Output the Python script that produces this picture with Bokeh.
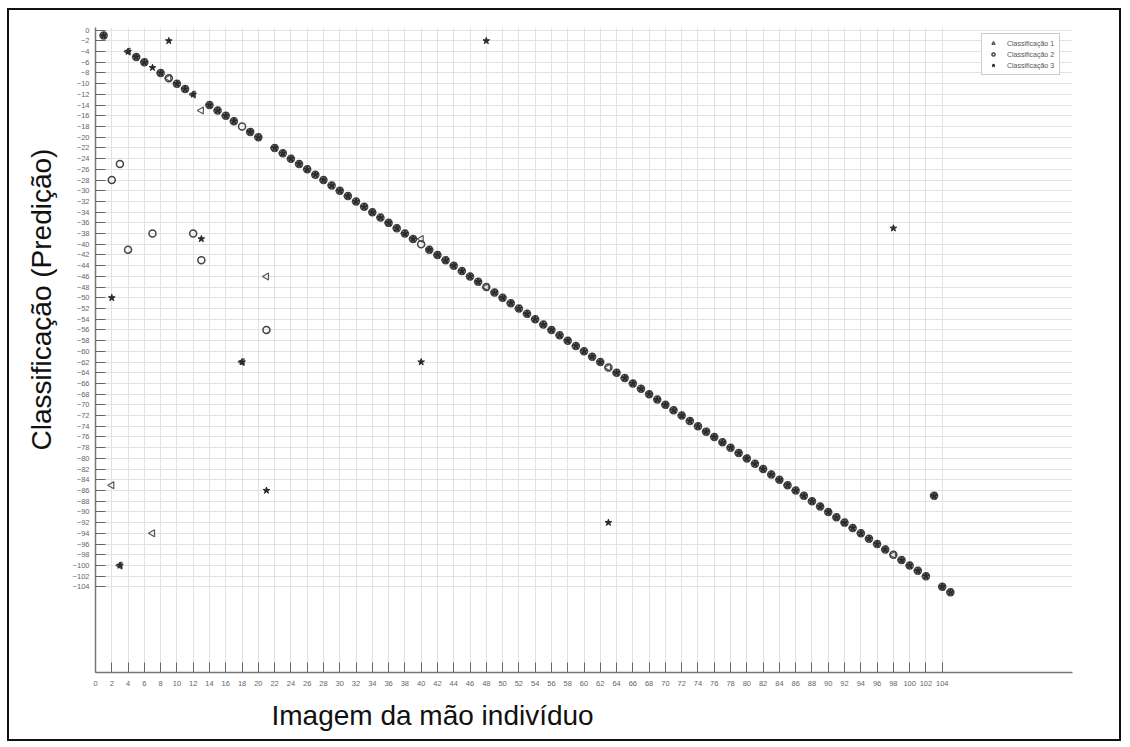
import math
from bokeh.plotting import figure
from bokeh.models import Range1d, FixedTicker, Title, ColumnDataSource
from bokeh.embed import file_html
from bokeh.resources import INLINE

# ---------------- data ----------------
imagens = [
    1, 2, 3, 4, 5, 6, 7, 8, 9, 10,
    11, 12, 13, 14, 15, 16, 17, 18, 19, 20,
    21, 22, 23, 24, 25, 26, 27, 28, 29, 30,
    31, 32, 33, 34, 35, 36, 37, 38, 39, 40,
    41, 42, 43, 44, 45, 46, 47, 48, 49, 50,
    51, 52, 53, 54, 55, 56, 57, 58, 59, 60,
    61, 62, 63, 64, 65, 66, 67, 68, 69, 70,
    71, 72, 73, 74, 75, 76, 77, 78, 79, 80,
    81, 82, 83, 84, 85, 86, 87, 88, 89, 90,
    91, 92, 93, 94, 95, 96, 97, 98, 99, 100,
    101, 102, 103, 104, 105,
]

classificacao_1 = [
    -1, -85, -100, -4, -5, -6, -94, -8, -9, -10,
    -11, -12, -15, -14, -15, -16, -17, -62, -19, -20,
    -46, -22, -23, -24, -25, -26, -27, -28, -29, -30,
    -31, -32, -33, -34, -35, -36, -37, -38, -39, -39,
    -41, -42, -43, -44, -45, -46, -47, -48, -49, -50,
    -51, -52, -53, -54, -55, -56, -57, -58, -59, -60,
    -61, -62, -63, -64, -65, -66, -67, -68, -69, -70,
    -71, -72, -73, -74, -75, -76, -77, -78, -79, -80,
    -81, -82, -83, -84, -85, -86, -87, -88, -89, -90,
    -91, -92, -93, -94, -95, -96, -97, -98, -99, -100,
    -101, -102, -87, -104, -105,
]

classificacao_2 = [
    -1, -28, -25, -41, -5, -6, -38, -8, -9, -10,
    -11, -38, -43, -14, -15, -16, -17, -18, -19, -20,
    -56, -22, -23, -24, -25, -26, -27, -28, -29, -30,
    -31, -32, -33, -34, -35, -36, -37, -38, -39, -40,
    -41, -42, -43, -44, -45, -46, -47, -48, -49, -50,
    -51, -52, -53, -54, -55, -56, -57, -58, -59, -60,
    -61, -62, -63, -64, -65, -66, -67, -68, -69, -70,
    -71, -72, -73, -74, -75, -76, -77, -78, -79, -80,
    -81, -82, -83, -84, -85, -86, -87, -88, -89, -90,
    -91, -92, -93, -94, -95, -96, -97, -98, -99, -100,
    -101, -102, -87, -104, -105,
]

classificacao_3 = [
    -1, -50, -100, -4, -5, -6, -7, -8, -2, -10,
    -11, -12, -39, -14, -15, -16, -17, -62, -19, -20,
    -86, -22, -23, -24, -25, -26, -27, -28, -29, -30,
    -31, -32, -33, -34, -35, -36, -37, -38, -39, -62,
    -41, -42, -43, -44, -45, -46, -47, -2, -49, -50,
    -51, -52, -53, -54, -55, -56, -57, -58, -59, -60,
    -61, -62, -92, -64, -65, -66, -67, -68, -69, -70,
    -71, -72, -73, -74, -75, -76, -77, -78, -79, -80,
    -81, -82, -83, -84, -85, -86, -87, -88, -89, -90,
    -91, -92, -93, -94, -95, -96, -97, -37, -99, -100,
    -101, -102, -87, -104, -105,
]

x_ticks = list(range(0, 105, 2))
y_ticks = list(range(0, -105, -2))

legend_labels = ["Classificação 1", "Classificação 2", "Classificação 3"]
x_title = "Imagem da mão indivíduo"
y_title = "Classificação (Predição)"

# ---------------- figure ----------------
p = figure(
    width=1114, height=733,
    x_range=Range1d(0, 120), y_range=Range1d(-120, 0.5),
    output_backend="svg", toolbar_location=None,
    min_border_left=86, min_border_right=51,
    min_border_top=17, min_border_bottom=71,
)
p.styles = {"border": "2px solid #111", "margin-top": "8px", "margin-left": "7px"}
p.outline_line_color = None
p.background_fill_color = "white"
p.border_fill_color = "white"

for ax, ticks in ((p.xaxis[0], x_ticks), (p.yaxis[0], y_ticks)):
    ax.ticker = FixedTicker(ticks=ticks)
    ax.axis_line_color = "#777777"
    ax.axis_line_width = 1.5
    ax.major_tick_line_color = "#666666"
    ax.major_tick_in = 10
    ax.major_tick_out = 0
    ax.minor_tick_line_color = None
    ax.major_label_text_font = "Liberation Sans"
    ax.major_label_text_font_size = "7.5px"
    ax.major_label_text_color = "#666666"

p.xaxis.major_label_standoff = 8
p.yaxis.major_label_standoff = 6

p.xgrid.ticker = FixedTicker(ticks=x_ticks)
p.ygrid.ticker = FixedTicker(ticks=y_ticks)
p.grid.grid_line_color = "#e2e2e2"
p.grid.grid_line_width = 1

src = ColumnDataSource(dict(x=imagens, c1=classificacao_1,
                            c2=classificacao_2, c3=classificacao_3))

p.scatter("x", "c1", source=src, marker="triangle", angle=math.pi / 2,
          size=7, fill_color=None, line_color="#555555", line_width=1.2,
          legend_label=legend_labels[0])
p.scatter("x", "c2", source=src, marker="circle",
          size=7, fill_color=None, line_color="#444444", line_width=1.5,
          legend_label=legend_labels[1])
p.scatter("x", "c3", source=src, marker="star",
          size=7, fill_color="#2a2a2a", line_color="#2a2a2a", line_width=1,
          legend_label=legend_labels[2])

lg = p.legend[0]
lg.location = (886, 597)
lg.margin = 0
lg.label_text_font = "Liberation Sans"
lg.label_text_font_size = "7px"
lg.label_text_color = "#555555"
lg.label_height = 8
lg.glyph_height = 8
lg.glyph_width = 12
lg.spacing = 3
lg.padding = 5
lg.label_standoff = 8
lg.border_line_color = "#999999"
lg.border_line_width = 1
lg.background_fill_color = "white"

p.add_layout(Title(text=x_title, align="left", offset=176,
                   text_font="Liberation Sans", text_font_size="28px",
                   text_font_style="normal", text_color="#111111",
                   standoff=19), "below")
p.add_layout(Title(text=y_title, align="left", offset=222,
                   text_font="Liberation Sans", text_font_size="28px",
                   text_font_style="normal", text_color="#111111",
                   standoff=26), "left")

open("out.html", "w").write(file_html(p, INLINE))
